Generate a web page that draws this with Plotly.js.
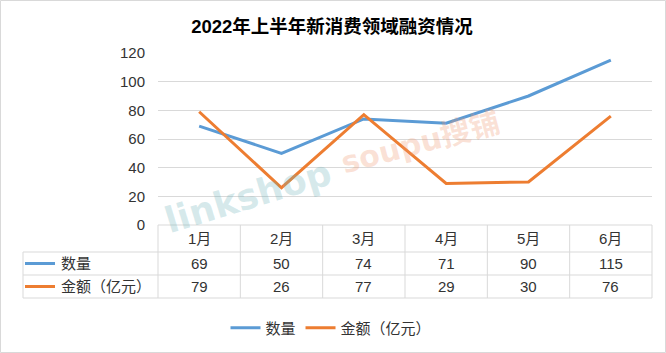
<!DOCTYPE html>
<html><head><meta charset="utf-8">
<script src="https://cdn.plot.ly/plotly-3.0.1.min.js"></script>
<style>body{margin:0;padding:0;background:#fff}#chart{width:666px;height:353px}</style>
</head><body><div id="chart"></div>
<script>
const months = ['1月','2月','3月','4月','5月','6月'];
const counts = [69, 50, 74, 71, 90, 115];
const amounts = [79, 26, 77, 29, 30, 76];
const seriesNames = ['数量','金额（亿元）'];
const yTicks = [0,20,40,60,80,100,120];

const W = 666, H = 353;
const L = 158, R = 652, T = 53, B = 225;
const px = v => (v - L) / (R - L);
const py = v => (B - v) / (B - T);
const gridC = '#D9D9D9';
const blue = '#5B9BD5', orange = '#ED7D31';
const FONT = 'Liberation Sans, Arial, Noto Sans CJK SC, sans-serif';
const TXT = '#333333';
const FS = 15;

const rows = [225, 252, 275, 298];
const tableLeft = 23;
const colW = (R - L) / months.length;

const shapes = [];
const line = (x0,y0,x1,y1,c,w) => shapes.push({type:'line',xref:'paper',yref:'paper',x0:px(x0),y0:py(y0),x1:px(x1),y1:py(y1),line:{color:c,width:w||1}});
line(L, rows[0], R, rows[0], gridC);
for (let i = 1; i < rows.length; i++) line(tableLeft, rows[i], R, rows[i], gridC);
line(tableLeft, rows[1], tableLeft, rows[3], gridC);
for (let k = 0; k <= months.length; k++) line(L + k*colW, rows[0], L + k*colW, rows[3], gridC);
const rowMid = i => (rows[i] + rows[i+1]) / 2;
line(25, rowMid(1), 55, rowMid(1), blue, 3);
line(25, rowMid(2), 55, rowMid(2), orange, 3);
shapes.push({type:'rect',xref:'paper',yref:'paper',x0:px(0.5),y0:py(H-0.5),x1:px(W-0.5),y1:py(0.5),line:{color:'#D9D9D9',width:1}});

const annotations = [];
const txt = (x, y, t, anchor) => annotations.push({xref:'paper',yref:'paper',x:px(x),y:py(y),text:t,showarrow:false,xanchor:anchor||'center',yanchor:'middle',font:{family:FONT,size:FS,color:TXT}});
months.forEach((m,i) => {
  const cx = L + (i + 0.5) * colW;
  txt(cx, rowMid(0), m);
  txt(cx, rowMid(1), String(counts[i]));
  txt(cx, rowMid(2), String(amounts[i]));
});
txt(59, rowMid(1), seriesNames[0], 'left');
txt(59, rowMid(2), seriesNames[1], 'left');

// faint watermarks
annotations.push({xref:'paper',yref:'paper',x:px(248),y:py(196),xanchor:'center',yanchor:'middle',text:'<b>linkshop</b>',showarrow:false,textangle:-17,font:{family:'DejaVu Sans, sans-serif',size:36,color:'rgba(110,180,185,0.28)'}});
annotations.push({xref:'paper',yref:'paper',x:px(420),y:py(142),xanchor:'center',yanchor:'middle',text:'<b>soupu</b><b>搜铺</b>',showarrow:false,textangle:-15,font:{family:'DejaVu Sans, Noto Sans CJK SC, sans-serif',size:30,color:'rgba(238,150,110,0.28)'}});

const data = [
  {x: months, y: counts, name: seriesNames[0], type:'scatter', mode:'lines', line:{color:blue,width:3}},
  {x: months, y: amounts, name: seriesNames[1], type:'scatter', mode:'lines', line:{color:orange,width:3}}
];

const layout = {
  width: W, height: H,
  margin: {l: L, r: W - R, t: T, b: H - B, pad: 0},
  paper_bgcolor:'#fff', plot_bgcolor:'#fff',
  title: {text:'<b>2022年上半年新消费领域融资情况</b>', x: 332/W, xanchor:'center', y: 1 - 27/H, yanchor:'middle', font:{family:'Liberation Sans, Noto Sans CJK SC, sans-serif', size:18.5, color:'#000'}},
  xaxis: {type:'category', range:[-0.5, 5.5], showticklabels:false, showgrid:false, zeroline:false, showline:false, ticks:''},
  yaxis: {range:[0,120], tickvals: yTicks, showgrid:true, gridcolor:gridC, gridwidth:1, zeroline:false, showline:false,
          ticks:'outside', ticklen:9, tickcolor:'rgba(0,0,0,0)', tickfont:{family:FONT, size:FS, color:TXT}},
  showlegend: true,
  legend: {orientation:'h', xref:'container', yref:'container', x: 331/W, xanchor:'center', y: 1 - 328/H, yanchor:'middle',
           font:{family:FONT, size:FS, color:TXT}, itemwidth:30, tracegroupgap:0, bgcolor:'rgba(0,0,0,0)'},
  shapes, annotations
};
Plotly.newPlot('chart', data, layout, {staticPlot:true, displayModeBar:false});
</script></body></html>
